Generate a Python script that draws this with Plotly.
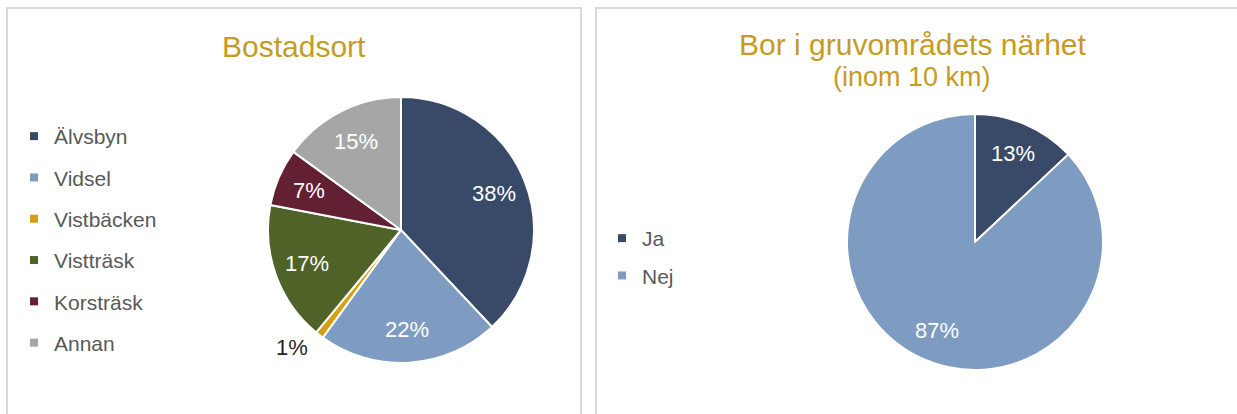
import math
import plotly.graph_objects as go

# ---- data ----
ort_labels = ["Älvsbyn", "Vidsel", "Vistbäcken", "Vistträsk", "Korsträsk", "Annan"]
ort_values = [38, 22, 1, 17, 7, 15]
ort_colors = ["#384A68", "#7E9CC2", "#D69E12", "#4F6228", "#632033", "#A6A6A6"]

near_labels = ["Ja", "Nej"]
near_values = [13, 87]
near_colors = ["#384A68", "#7E9CC2"]

title_left = "Bostadsort"
title_right = "Bor i gruvområdets närhet"
subtitle_right = "(inom 10 km)"

W, H = 1237, 414
FONT = "Liberation Sans, Arial, sans-serif"
GOLD = "#C59B24"
LEGEND_GRAY = "#595959"

# pie domains (paper fractions)
dom_left = dict(x=[268 / W, 534 / W], y=[51 / H, 317 / H])
dom_right = dict(x=[847 / W, 1103 / W], y=[44 / H, 300 / H])

fig = go.Figure()

for labs, vals, cols, dom in [(ort_labels, ort_values, ort_colors, dom_left),
                              (near_labels, near_values, near_colors, dom_right)]:
    fig.add_trace(go.Pie(
        labels=labs, values=vals, sort=False, direction="clockwise", rotation=0,
        marker=dict(colors=cols, line=dict(color="white", width=2)),
        textinfo="none", domain=dom, showlegend=False, hoverinfo="label+percent",
    ))


def pie_label_annotations(values, dom, small_limit=5):
    """Data labels placed at each slice's mid-angle (clockwise from 12 o'clock)."""
    cx = (dom["x"][0] + dom["x"][1]) / 2 * W
    cy = (1 - (dom["y"][0] + dom["y"][1]) / 2) * H
    R = min((dom["x"][1] - dom["x"][0]) * W, (dom["y"][1] - dom["y"][0]) * H) / 2
    total = sum(values)
    cum = 0
    out = []
    for v in values:
        mid = (cum + v / 2) / total * 2 * math.pi
        cum += v
        inside = v >= small_limit
        r = R * (0.75 if inside else 1.12)
        px = cx + r * math.sin(mid)
        py = cy - r * math.cos(mid)
        if inside:
            xa = "center"
        else:
            xa = "right" if math.sin(mid) < 0 else "left"
        out.append(dict(text=f"{v}%", x=px / W, y=1 - py / H, xref="paper", yref="paper",
                        showarrow=False, xanchor=xa, yanchor="middle",
                        font=dict(family=FONT, size=22,
                                  color="white" if inside else "#262626")))
    return out


# legend entries (one per category)
for lab, col in zip(ort_labels, ort_colors):
    fig.add_trace(go.Scatter(x=[None], y=[None], mode="markers", name=lab,
                             marker=dict(symbol="square", size=8, color=col),
                             legend="legend", legendgroup="L_" + lab))
for lab, col in zip(near_labels, near_colors):
    fig.add_trace(go.Scatter(x=[None], y=[None], mode="markers", name=lab,
                             marker=dict(symbol="square", size=8, color=col),
                             legend="legend2", legendgroup="R_" + lab))

shapes = [
    dict(type="rect", xref="paper", yref="paper", x0=7 / W, x1=581 / W, y0=-0.1, y1=1 - 8 / H,
         line=dict(color="#D9D9D9", width=2), fillcolor="rgba(0,0,0,0)", layer="below"),
    dict(type="rect", xref="paper", yref="paper", x0=596 / W, x1=1.1, y0=-0.1, y1=1 - 8 / H,
         line=dict(color="#D9D9D9", width=2), fillcolor="rgba(0,0,0,0)", layer="below"),
]

annotations = [
    dict(text=title_left, x=294 / W, y=1 - 46 / H, xref="paper", yref="paper",
         showarrow=False, xanchor="center", yanchor="middle",
         font=dict(family=FONT, size=30, color=GOLD)),
    dict(text=title_right, x=912 / W, y=1 - 44 / H, xref="paper", yref="paper",
         showarrow=False, xanchor="center", yanchor="middle",
         font=dict(family=FONT, size=30, color=GOLD)),
    dict(text=subtitle_right, x=912 / W, y=1 - 77 / H, xref="paper", yref="paper",
         showarrow=False, xanchor="center", yanchor="middle",
         font=dict(family=FONT, size=27, color=GOLD)),
]
annotations += pie_label_annotations(ort_values, dom_left)
annotations += pie_label_annotations(near_values, dom_right)

fig.update_layout(
    width=W, height=H, margin=dict(l=0, r=0, t=0, b=0),
    paper_bgcolor="white", plot_bgcolor="white",
    xaxis=dict(visible=False), yaxis=dict(visible=False),
    shapes=shapes, annotations=annotations,
    legend=dict(x=14 / W, y=1 - 116 / H, xanchor="left", yanchor="top",
                traceorder="grouped", tracegroupgap=11, bgcolor="rgba(0,0,0,0)",
                font=dict(family=FONT, size=21, color=LEGEND_GRAY)),
    legend2=dict(x=602 / W, y=1 - 218 / H, xanchor="left", yanchor="top",
                 traceorder="grouped", tracegroupgap=7, bgcolor="rgba(0,0,0,0)",
                 font=dict(family=FONT, size=21, color=LEGEND_GRAY)),
    hovermode=False,
)

fig.write_html("out.html", config={"displayModeBar": False},
               post_script="document.body.style.margin='0';")
